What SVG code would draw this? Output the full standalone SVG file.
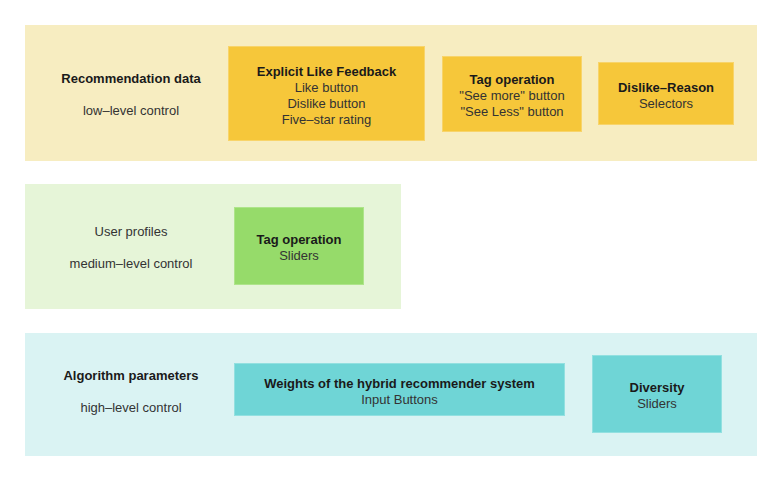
<svg xmlns="http://www.w3.org/2000/svg" width="782" height="481" viewBox="0 0 782 481">
<style>
text{font-family:"Liberation Sans",Arial,sans-serif;font-size:13px;text-anchor:middle;fill:#333}
.b{font-weight:bold;fill:#1a1a1a}
.y{fill:#f6c73a;stroke:#f8d46a;stroke-width:1}
.g{fill:#96db6a;stroke:#aee48a;stroke-width:1}
.c{fill:#6fd5d6;stroke:#92e0e0;stroke-width:1}
</style>
<rect width="782" height="481" fill="#ffffff"/>
<g id="band-recommendation">
<rect x="25" y="25" width="732" height="136" fill="#f7edc1"/>
<text class="b" x="131" y="83">Recommendation data</text>
<text x="131" y="115">low–level control</text>
</g>
<g id="node-explicit">
<rect class="y" x="228.5" y="46.5" width="196" height="94"/>
<text class="b" x="326.5" y="76">Explicit Like Feedback</text>
<text x="326.5" y="92">Like button</text>
<text x="326.5" y="108">Dislike button</text>
<text x="326.5" y="124">Five–star rating</text>
</g>
<g id="node-tag-buttons">
<rect class="y" x="442.5" y="56.5" width="139" height="75"/>
<text class="b" x="512" y="84">Tag operation</text>
<text x="512" y="100">"See more" button</text>
<text x="512" y="116">"See Less" button</text>
</g>
<g id="node-dislike">
<rect class="y" x="598.5" y="62.5" width="135" height="62"/>
<text class="b" x="666" y="92">Dislike–Reason</text>
<text x="666" y="108">Selectors</text>
</g>
<g id="band-user">
<rect x="25" y="184" width="376" height="125" fill="#e6f5d8"/>
<text x="131" y="236">User profiles</text>
<text x="131" y="268">medium–level control</text>
</g>
<g id="node-tag-sliders">
<rect class="g" x="234.5" y="207.5" width="129" height="77"/>
<text class="b" x="299" y="244">Tag operation</text>
<text x="299" y="260">Sliders</text>
</g>
<g id="band-algorithm">
<rect x="25" y="333" width="732" height="123" fill="#daf3f3"/>
<text class="b" x="131" y="380">Algorithm parameters</text>
<text x="131" y="412">high–level control</text>
</g>
<g id="node-weights">
<rect class="c" x="234.5" y="363.5" width="330" height="52"/>
<text class="b" x="399.5" y="388">Weights of the hybrid recommender system</text>
<text x="399.5" y="404">Input Buttons</text>
</g>
<g id="node-diversity">
<rect class="c" x="592.5" y="355.5" width="129" height="77"/>
<text class="b" x="657" y="392">Diversity</text>
<text x="657" y="408">Sliders</text>
</g>
<g id="connectors"></g>
</svg>
